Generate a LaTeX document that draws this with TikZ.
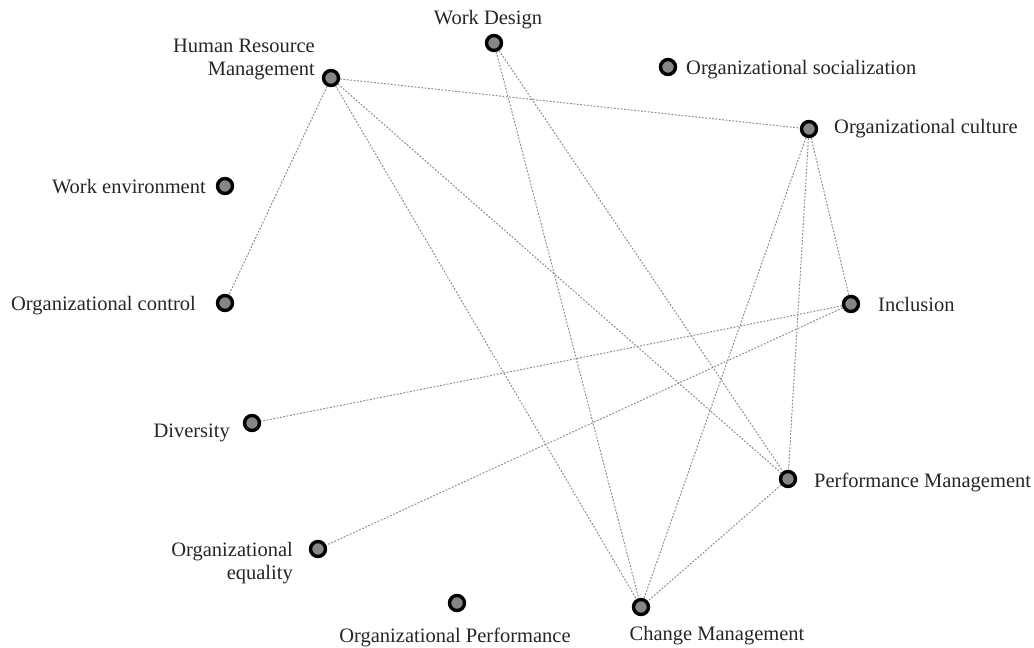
\documentclass[tikz,border=0pt]{standalone}
\usepackage{fontspec}
\setmainfont{Liberation Serif}
\begin{document}
\begin{tikzpicture}[x=1pt,y=-1pt,
  dot/.style={circle,draw=black,fill=gray!95,line width=3.4pt,minimum size=15pt,inner sep=0pt},
  lbl/.style={font=\fontsize{20.5}{22.5}\selectfont,text=black!85,inner sep=0pt,align=right},
  link/.style={draw=gray!90,line width=1pt,dash pattern=on 1.8pt off 1.6pt}]
\useasboundingbox (0,0) rectangle (1034,648);
% nodes
\node[dot] (wd) at (494,43) {};
\node[dot] (hrm) at (331,78) {};
\node[dot] (os) at (668,67) {};
\node[dot] (oc) at (809,129) {};
\node[dot] (we) at (225,186) {};
\node[dot] (octl) at (225,303) {};
\node[dot] (inc) at (851,304) {};
\node[dot] (div) at (252,423) {};
\node[dot] (pm) at (788,479) {};
\node[dot] (oe) at (318,549) {};
\node[dot] (op) at (457,603) {};
\node[dot] (cm) at (641,607) {};
% labels
\node[lbl,anchor=base] (wdl) at (488,24) {Work Design};
\node[lbl,anchor=base east] (hrml) at (315,75) {Human Resource\\Management};
\node[lbl,anchor=base west] (osl) at (686,74) {Organizational socialization};
\node[lbl,anchor=base west] (ocl) at (834,133) {Organizational culture};
\node[lbl,anchor=base east] (wel) at (206,193) {Work environment};
\node[lbl,anchor=base east] (octll) at (196,310) {Organizational control};
\node[lbl,anchor=base west] (incl) at (878,311) {Inclusion};
\node[lbl,anchor=base east] (divl) at (230,437) {Diversity};
\node[lbl,anchor=base west] (pml) at (814,487) {Performance Management};
\node[lbl,anchor=base east] (oel) at (293,579) {Organizational\\equality};
\node[lbl,anchor=base] (opl) at (455,642) {Organizational Performance};
\node[lbl,anchor=base] (cml) at (717,640) {Change Management};
% connectors
\draw[link] (hrm) -- (oc);
\draw[link] (hrm) -- (octl);
\draw[link] (hrm) -- (cm);
\draw[link] (hrm) -- (pm);
\draw[link] (wd) -- (cm);
\draw[link] (wd) -- (pm);
\draw[link] (oc) -- (cm);
\draw[link] (oc) -- (pm);
\draw[link] (oc) -- (inc);
\draw[link] (inc) -- (div);
\draw[link] (inc) -- (oe);
\draw[link] (pm) -- (cm);
\end{tikzpicture}
\end{document}
